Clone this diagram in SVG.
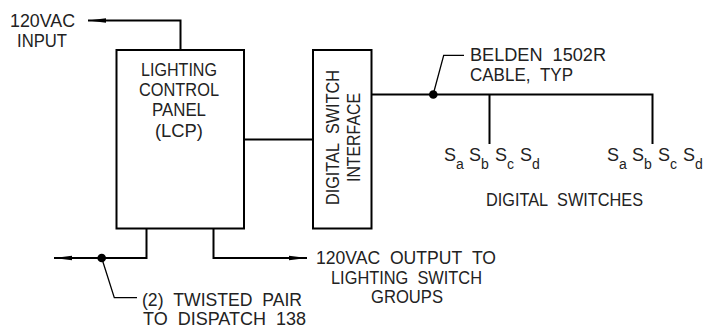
<svg xmlns="http://www.w3.org/2000/svg" width="706" height="329" viewBox="0 0 706 329">
<defs>
<marker id="arrow" markerUnits="userSpaceOnUse" markerWidth="20" markerHeight="8" refX="18" refY="4" orient="auto"><path d="M0 1.800L18 4L0 6.200Z" fill="#000"/></marker>
</defs>
<style>
text{font-family:"Liberation Sans",Arial,sans-serif;font-size:18px;fill:#222;font-weight:400}
.m{text-anchor:middle}
.l{fill:none;stroke:#000;stroke-width:2}
.t{fill:none;stroke:#000;stroke-width:1.300}
.b{fill:#fff;stroke:#000;stroke-width:2}
.s{font-size:14px}
</style>
<rect width="706" height="329" fill="#fff"/>
<g id="connectors">
<path class="l" d="M180.500 50V20.500H88" marker-end="url(#arrow)"/>
<path class="l" d="M244 139.500H313"/>
<path class="l" d="M146.500 229V258H54" marker-end="url(#arrow)"/>
<path class="l" d="M213.500 229V258H307" marker-end="url(#arrow)"/>
<path class="l" d="M371 94.500H652.500V144M489.500 94.500V144"/>
<path class="t" d="M433.300 94L443.700 55.300H464"/>
<path class="t" d="M101.700 258L114.300 297.700H137"/>
<circle cx="433.300" cy="94.500" r="4.300"/>
<circle cx="101.700" cy="258" r="4.300"/>
</g>
<g id="lcp"><rect class="b" x="116.500" y="50" width="127.500" height="178.500"/>
<text x="141" y="76" textLength="76" lengthAdjust="spacingAndGlyphs">LIGHTING</text>
<text x="139" y="96" textLength="80" lengthAdjust="spacingAndGlyphs">CONTROL</text>
<text x="152" y="116" textLength="54" lengthAdjust="spacingAndGlyphs">PANEL</text>
<text x="155" y="137" textLength="48" lengthAdjust="spacingAndGlyphs">(LCP)</text></g>
<g id="dsi"><rect class="b" x="313" y="50" width="58.500" height="178.500"/>
<text transform="translate(339 205) rotate(-90)" textLength="135" lengthAdjust="spacingAndGlyphs">DIGITAL&#160;&#160;SWITCH</text>
<text transform="translate(360 182) rotate(-90)" textLength="89" lengthAdjust="spacingAndGlyphs">INTERFACE</text></g>
<g id="labels">
<text x="10" y="27" textLength="65" lengthAdjust="spacingAndGlyphs">120VAC</text>
<text x="17" y="47" textLength="50" lengthAdjust="spacingAndGlyphs">INPUT</text>
<text x="470" y="61" textLength="136" lengthAdjust="spacingAndGlyphs">BELDEN&#160;&#160;1502R</text>
<text x="470" y="81" textLength="103" lengthAdjust="spacingAndGlyphs">CABLE,&#160;&#160;TYP</text>
<text x="486" y="206" textLength="157" lengthAdjust="spacingAndGlyphs">DIGITAL&#160;&#160;SWITCHES</text>
<text x="316" y="264" textLength="180" lengthAdjust="spacingAndGlyphs">120VAC&#160;&#160;OUTPUT&#160;&#160;TO</text>
<text x="331" y="284" textLength="151" lengthAdjust="spacingAndGlyphs">LIGHTING&#160;&#160;SWITCH</text>
<text x="371" y="303" textLength="72" lengthAdjust="spacingAndGlyphs">GROUPS</text>
<text x="142" y="306" textLength="160" lengthAdjust="spacingAndGlyphs">(2)&#160;&#160;TWISTED&#160;&#160;PAIR</text>
<text x="143" y="325" textLength="163" lengthAdjust="spacingAndGlyphs">TO&#160;&#160;DISPATCH&#160;&#160;138</text>
</g>
<g id="switches-1">
<text x="444" y="161">S<tspan class="s" dy="8">a</tspan></text>
<text x="469" y="161">S<tspan class="s" dy="8">b</tspan></text>
<text x="495" y="161">S<tspan class="s" dy="8">c</tspan></text>
<text x="520" y="161">S<tspan class="s" dy="8">d</tspan></text>
</g>
<g id="switches-2">
<text x="607" y="161">S<tspan class="s" dy="8">a</tspan></text>
<text x="632" y="161">S<tspan class="s" dy="8">b</tspan></text>
<text x="658" y="161">S<tspan class="s" dy="8">c</tspan></text>
<text x="683" y="161">S<tspan class="s" dy="8">d</tspan></text>
</g>
</svg>
